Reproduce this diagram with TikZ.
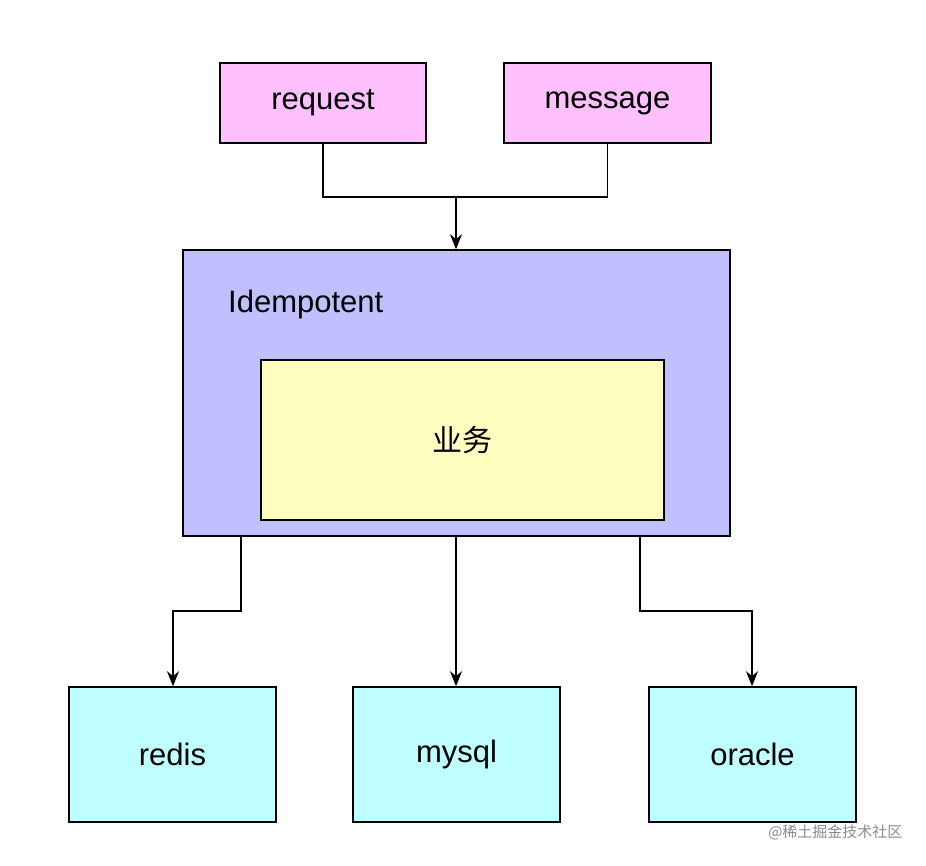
\documentclass[tikz,border=0pt]{standalone}
\usepackage{fontspec}
\setmainfont{Liberation Sans}
\newfontfamily\cjk{Noto Sans CJK SC}
\usetikzlibrary{arrows.meta}
\definecolor{pinkf}{HTML}{FFC0FF}
\definecolor{bluef}{HTML}{C0C0FF}
\definecolor{yelf}{HTML}{FFFFC0}
\definecolor{cyanf}{HTML}{C0FFFF}
\begin{document}
\begin{tikzpicture}[x=1pt,y=-1pt,
  box/.style={draw=black,line width=1.5pt,inner sep=0pt,font=\fontsize{31}{36}\selectfont},
  conn/.style={line width=1.5pt},
  arr/.style={conn,-{Stealth[length=15pt,width=12pt]}}]
\useasboundingbox[fill=white] (0,0) rectangle (926,866);
\node[box,fill=pinkf,minimum width=206pt,minimum height=80pt] (req) at (323,103) {request};
\node[box,fill=pinkf,minimum width=207pt,minimum height=80pt] (msg) at (607.5,103) {message};
\node[box,fill=bluef,minimum width=547pt,minimum height=286pt] (idem) at (456.5,393) {};
\node[font=\fontsize{31}{36}\selectfont,anchor=west,inner sep=0pt] (idl) at (228,304) {Idempotent};
\node[box,fill=yelf,minimum width=403pt,minimum height=160pt,font=\cjk\fontsize{30}{34}\selectfont] (biz) at (462.5,440) {业务};
\node[box,fill=cyanf,minimum width=207pt,minimum height=135pt] (redis) at (172.5,754.5) {redis};
\node[box,fill=cyanf,minimum width=207pt,minimum height=135pt] (mysql) at (456.5,754.5) {mysql};
\node[box,fill=cyanf,minimum width=207pt,minimum height=135pt] (oracle) at (752.5,754.5) {oracle};
\coordinate (j) at (456,197);
\draw[conn] (req.south) |- (j) -| (msg.south);
\draw[arr] (j) -- (j |- idem.north);
\draw[arr] (idem.south -| 241,0) |- (173,611) -- (redis.north -| 173,0);
\draw[arr] (idem.south -| 456,0) -- (mysql.north -| 456,0);
\draw[arr] (idem.south -| 640,0) |- (752,611) -- (oracle.north -| 752,0);
\node[font=\cjk\fontsize{15}{18}\selectfont,text=black!45,anchor=east] (wm) at (906,832) {@稀土掘金技术社区};
\end{tikzpicture}
\end{document}
